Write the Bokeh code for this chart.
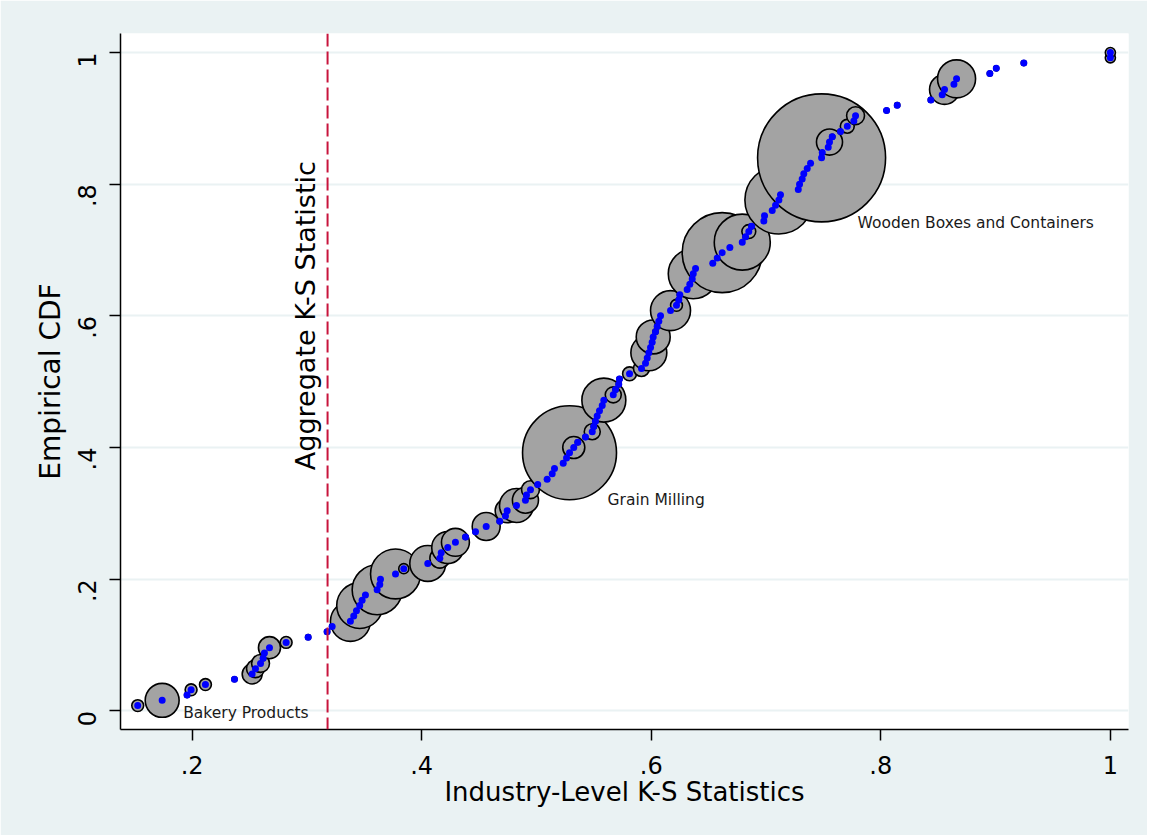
import math
from bokeh.plotting import figure
from bokeh.models import (ColumnDataSource, Range1d, Span, Label, FixedTicker,
                          CustomJSTickFormatter)
from bokeh.embed import file_html
from bokeh.resources import INLINE

# Industry-level K-S statistics, sorted ascending (one entry per industry)
ks_stat = [
    0.1526, 0.1739, 0.1956, 0.1991, 0.2116, 0.2369, 0.2523, 0.2552, 0.2596, 0.2619, 0.2630, 0.2674, 0.2819, 0.3011, 0.3176, 0.3220,
    0.3379, 0.3408, 0.3432, 0.3460, 0.3481, 0.3510, 0.3612, 0.3635, 0.3641, 0.3772, 0.3844, 0.4053, 0.4158, 0.4170, 0.4227, 0.4294,
    0.4382, 0.4469, 0.4562, 0.4680, 0.4730, 0.4745, 0.4826, 0.4904, 0.4913, 0.4948, 0.5011, 0.5093, 0.5137, 0.5157, 0.5233, 0.5262,
    0.5288, 0.5325, 0.5360, 0.5427, 0.5486, 0.5499, 0.5514, 0.5529, 0.5549, 0.5573, 0.5587, 0.5669, 0.5689, 0.5717, 0.5723, 0.5811,
    0.5915, 0.5950, 0.5965, 0.5979, 0.5994, 0.6008, 0.6017, 0.6037, 0.6052, 0.6066, 0.6081, 0.6168, 0.6220, 0.6240, 0.6249, 0.6313,
    0.6336, 0.6357, 0.6366, 0.6386, 0.6536, 0.6575, 0.6618, 0.6685, 0.6793, 0.6822, 0.6850, 0.6874, 0.6981, 0.6987, 0.7054, 0.7083,
    0.7112, 0.7126, 0.7281, 0.7292, 0.7315, 0.7329, 0.7359, 0.7388, 0.7484, 0.7490, 0.7542, 0.7553, 0.7577, 0.7649, 0.7708, 0.7765,
    0.7780, 0.8050, 0.8143, 0.8436, 0.8535, 0.8555, 0.8637, 0.8660, 0.8950, 0.9006, 0.9246, 1.0000, 1.0000,
]

# Industry weights (bubble area)
weight = [
    0.55, 4.5, 0.1, 0.55, 0.55, 0.1, 1.55, 1.25, 1.25, 0.1, 0.1, 1.9, 0.55, 0.1, 0.1, 0.1,
    6.25, 0.1, 0.1, 8.25, 0.1, 0.1, 9.75, 0.1, 0.1, 9.75, 0.4, 5.05, 1.55, 0.1, 4.0, 3.05,
    0.1, 0.1, 3.05, 0.1, 0.1, 2.25, 4.5, 2.65, 0.1, 1.25, 0.1, 0.1, 0.1, 0.1, 0.1, 0.1,
    34.5, 1.9, 0.1, 0.1, 1.0, 0.1, 0.1, 0.1, 0.1, 0.1, 7.55, 1.0, 0.1, 0.1, 0.1, 0.75,
    1.0, 0.1, 0.1, 5.05, 0.1, 0.1, 4.5, 0.1, 0.1, 0.1, 0.1, 6.25, 0.55, 0.1, 0.1, 0.1,
    0.1, 0.1, 9.75, 0.1, 0.1, 0.1, 25.0, 0.1, 12.25, 0.1, 0.75, 0.1, 0.1, 0.1, 0.1, 0.1,
    18.05, 0.1, 0.1, 0.1, 0.1, 0.1, 0.1, 0.1, 64.0, 0.1, 0.1, 2.65, 0.1, 0.1, 0.75, 0.1,
    1.25, 0.1, 0.1, 0.1, 0.1, 3.5, 0.1, 5.65, 0.1, 0.1, 0.1, 0.4, 0.4,
]

aggregate_ks = 0.318

label_names = ["Bakery Products", "Grain Milling", "Wooden Boxes and Containers"]
label_index = [1, 48, 104]

y_ticks = [0, 0.2, 0.4, 0.6, 0.8, 1.0]
x_ticks = [0.2, 0.4, 0.6, 0.8, 1.0]

# Empirical CDF
n = len(ks_stat)
ecdf = [(i + 1) / n for i in range(n)]
diam = [16 * math.sqrt(w) for w in weight]

src = ColumnDataSource(dict(x=ks_stat, y=ecdf, d=diam))

FONT = "DejaVu Sans"
BG = "#EAF2F3"

p = figure(width=1147, height=835, output_backend="svg", toolbar_location=None,
           x_range=Range1d(0.1376, 1.0158), y_range=Range1d(-0.0283, 1.0289),
           min_border_left=120, min_border_right=19, min_border_top=33, min_border_bottom=106)
p.border_fill_color = BG
p.background_fill_color = "white"
p.outline_line_color = None

p.xgrid.visible = False
p.ygrid.grid_line_color = BG
p.ygrid.grid_line_width = 2
p.ygrid.ticker = FixedTicker(ticks=y_ticks)

fmt = CustomJSTickFormatter(code="""
if (Math.abs(tick) < 1e-9) return '0';
if (Math.abs(tick - 1) < 1e-9) return '1';
return tick.toFixed(1).replace(/^0/, '');
""")

for ax in (p.xaxis[0], p.yaxis[0]):
    ax.formatter = fmt
    ax.axis_line_color = "black"
    ax.axis_line_width = 1.5
    ax.major_tick_line_color = "black"
    ax.major_tick_line_width = 1.5
    ax.major_tick_in = 0
    ax.major_tick_out = 11
    ax.minor_tick_line_color = None
    ax.major_label_text_font = FONT
    ax.major_label_text_font_size = "24px"
    ax.major_label_text_color = "black"
    ax.axis_label_text_font = FONT
    ax.axis_label_text_font_style = "normal"
    ax.axis_label_text_color = "black"

p.xaxis.ticker = FixedTicker(ticks=x_ticks)
p.yaxis.ticker = FixedTicker(ticks=y_ticks)
p.xaxis.axis_label = "Industry-Level K-S Statistics"
p.yaxis.axis_label = "Empirical CDF"
p.xaxis.axis_label_text_font_size = "26px"
p.yaxis.axis_label_text_font_size = "28px"
p.yaxis.major_label_orientation = math.pi / 2
p.xaxis.major_label_standoff = 15
p.xaxis.axis_label_standoff = 0
p.yaxis.major_label_standoff = 22
p.yaxis.axis_label_standoff = 0

# bubbles
p.scatter("x", "y", size="d", source=src, fill_color="#A3A3A3", line_color="black",
          line_width=1.6)
# ECDF dots
p.scatter("x", "y", size=7, source=src, fill_color="#0000FF", line_color=None)

# aggregate line
p.add_layout(Span(location=aggregate_ks, dimension="height", line_color="#C8143C",
                  line_width=2, line_dash="13 5"))
p.add_layout(Label(x=aggregate_ks, y=0.3656, x_offset=-7, angle=math.pi / 2,
                   text="Aggregate K-S Statistic", text_font=FONT, text_font_size="27px",
                   text_color="black", text_align="left", text_baseline="bottom"))

offsets = [(21, -13), (38, -47), (36, -65)]
for name, idx, (dx, dy) in zip(label_names, label_index, offsets):
    p.add_layout(Label(x=ks_stat[idx], y=ecdf[idx], x_offset=dx, y_offset=dy, text=name,
                       text_font=FONT, text_font_size="15.5px", text_color="#1a1a1a",
                       text_align="left", text_baseline="middle"))

open("out.html", "w").write(file_html(p, INLINE))
